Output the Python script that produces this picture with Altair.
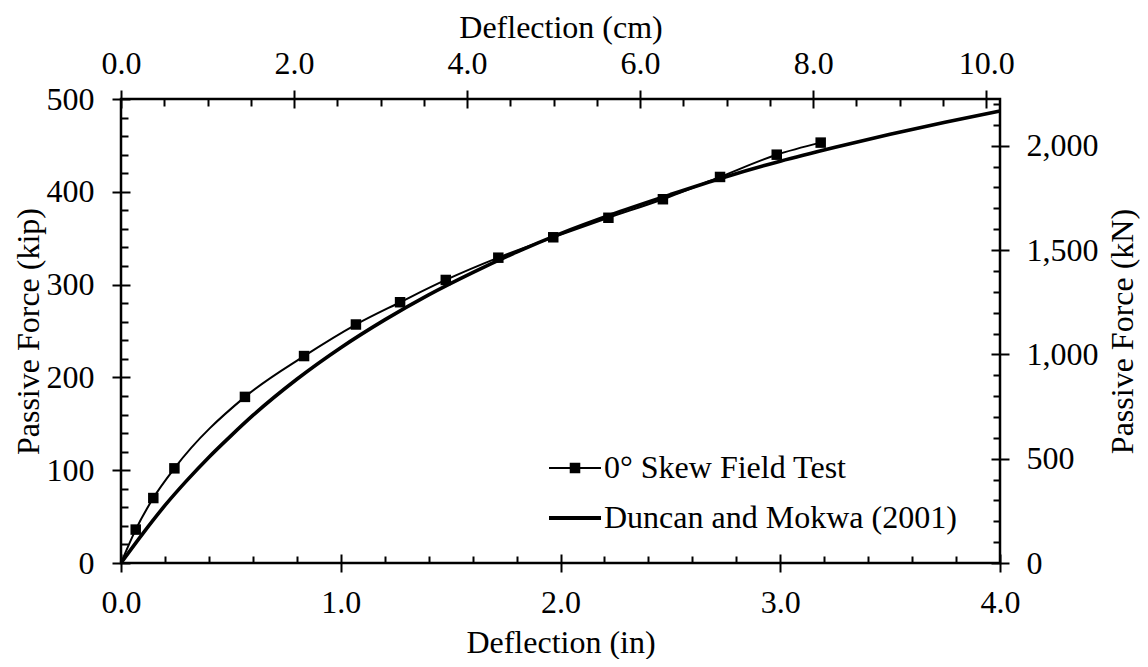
import altair as alt
import pandas as pd

# ---------------- data ----------------
field_in = [0.0, 0.067, 0.147, 0.243, 0.564, 0.833, 1.069, 1.27, 1.478, 1.717,
            1.967, 2.218, 2.466, 2.726, 2.984, 3.184]
field_kip = [0, 36, 70, 102, 179, 223, 257, 281, 305, 329,
             351, 372, 392, 416, 440, 453]

duncan_in = [0.0, 0.1, 0.2, 0.3, 0.4, 0.5, 0.6, 0.8, 1.0, 1.2, 1.4, 1.6, 1.8,
             2.0, 2.25, 2.5, 2.75, 3.0, 3.25, 3.5, 3.75, 4.0]
duncan_kip = [0, 32, 62, 89, 114, 137, 159, 198, 232, 262, 289, 313, 335,
              355, 377, 397, 416, 433, 448, 462, 475, 487]

series_names = ["0° Skew Field Test", "Duncan and Mokwa (2001)"]

in_major = [0, 1, 2, 3, 4]
in_minor = [0.2, 0.4, 0.6, 0.8, 1.2, 1.4, 1.6, 1.8, 2.2, 2.4, 2.6, 2.8,
            3.2, 3.4, 3.6, 3.8]
kip_major = [0, 100, 200, 300, 400, 500]
kip_minor = [20, 40, 60, 80, 120, 140, 160, 180, 220, 240, 260, 280,
             320, 340, 360, 380, 420, 440, 460, 480]
cm_major = [0, 2, 4, 6, 8, 10]
cm_minor = [0.5, 1, 1.5, 2.5, 3, 3.5, 4.5, 5, 5.5, 6.5, 7, 7.5, 8.5, 9, 9.5]
kn_major = [0, 500, 1000, 1500, 2000]
kn_minor = [100, 200, 300, 400, 600, 700, 800, 900, 1100, 1200, 1300, 1400,
            1600, 1700, 1800, 1900, 2100, 2200]

IN_DOM = [0, 4]
KIP_DOM = [0, 500]
CM_DOM = [0, 4 * 2.54]
KN_DOM = [0, 500 * 4.448222]

W, H = 879, 464
FONT = "Liberation Serif"
FS = 32


def sc(dom):
    return alt.Scale(domain=dom, nice=False, zero=False, padding=0)


def axis_layer(xdom, ydom, xaxis, yaxis):
    df = pd.DataFrame({"x": [xdom[0], xdom[1]], "y": [ydom[0], ydom[1]]})
    return alt.Chart(df).mark_point(opacity=0, size=1).encode(
        x=alt.X("x:Q", scale=sc(xdom), axis=xaxis),
        y=alt.Y("y:Q", scale=sc(ydom), axis=yaxis),
    )


common = dict(domain=False, grid=False, tickColor="black", tickWidth=2)

# major axes (ticks crossing the frame)
ax_bottom = alt.Axis(orient="bottom", values=in_major, format=".1f", tickSize=18,
                     offset=-9, labelPadding=40, labelBaseline="alphabetic",
                     labelFlush=False, labelOverlap=False,
                     title="Deflection (in)", titleX=W / 2, titleY=98,
                     titleBaseline="alphabetic", titleAlign="center", **common)
ax_left = alt.Axis(orient="left", values=kip_major, format="d", tickSize=18,
                   offset=-9, labelPadding=18, labelOverlap=False,
                   title="Passive Force (kip)", titleX=-92, titleY=H / 2,
                   titleAngle=270, titleBaseline="alphabetic",
                   titleAlign="center", **common)
ax_top = alt.Axis(orient="top", values=cm_major, format=".1f", tickSize=18,
                  offset=-9, labelPadding=17, labelBaseline="alphabetic",
                  labelFlush=False, labelOverlap=False,
                  title="Deflection (cm)", titleX=W / 2, titleY=-71,
                  titleBaseline="alphabetic", titleAlign="center", **common)
ax_right = alt.Axis(orient="right", values=kn_major, format=",d", tickSize=18,
                    offset=-9, labelPadding=17, labelOverlap=False,
                    title="Passive Force (kN)", titleX=141, titleY=H / 2,
                    titleAngle=270, titleBaseline="alphabetic",
                    titleAlign="center", **common)


# minor axes (inward ticks)
def minor(orient, vals):
    return alt.Axis(orient=orient, values=vals, tickSize=7, offset=-7,
                    labels=False, title="", **common)


layer_major_main = axis_layer(IN_DOM, KIP_DOM, ax_bottom, ax_left)
layer_minor_main = axis_layer(IN_DOM, KIP_DOM, minor("bottom", in_minor),
                              minor("left", kip_minor))
layer_major_sec = axis_layer(CM_DOM, KN_DOM, ax_top, ax_right)
layer_minor_sec = axis_layer(CM_DOM, KN_DOM, minor("top", cm_minor),
                             minor("right", kn_minor))

field_df = pd.DataFrame({"d": field_in, "F": field_kip})
duncan_df = pd.DataFrame({"d": duncan_in, "F": duncan_kip})

duncan_line = alt.Chart(duncan_df).mark_line(
    color="black", strokeWidth=3.6, interpolate="monotone"
).encode(
    x=alt.X("d:Q", scale=sc(IN_DOM), axis=None),
    y=alt.Y("F:Q", scale=sc(KIP_DOM), axis=None),
)

field_line = alt.Chart(field_df).mark_line(
    color="black", strokeWidth=2, interpolate="monotone"
).encode(
    x=alt.X("d:Q", scale=sc(IN_DOM), axis=None),
    y=alt.Y("F:Q", scale=sc(KIP_DOM), axis=None),
)

field_pts = alt.Chart(field_df).transform_filter("datum.d > 0").mark_point(
    shape="square", filled=True, color="black", opacity=1, size=110
).encode(
    x=alt.X("d:Q", scale=sc(IN_DOM), axis=None),
    y=alt.Y("F:Q", scale=sc(KIP_DOM), axis=None),
)

# legend symbols: line with square marker / thick line
sym_field = "M-1.625,-0.0625H1.625V0.0625H-1.625Z M-0.33,-0.33H0.33V0.33H-0.33Z"
sym_duncan = "M-1.625,-0.12H1.625V0.12H-1.625Z"

legend_df = pd.DataFrame({"series": series_names})
legend_layer = alt.Chart(legend_df).transform_filter("false").mark_point(
    filled=True, color="black", opacity=1, size=1024
).encode(
    shape=alt.Shape(
        "series:N",
        scale=alt.Scale(domain=series_names, range=[sym_field, sym_duncan]),
        legend=alt.Legend(
            title=None, orient="none", legendX=438, legendY=353,
            labelOffset=13, rowPadding=18, padding=0,
            symbolSize=1024, symbolStrokeWidth=0, symbolFillColor="black",
            symbolOpacity=1, labelFont=FONT, labelFontSize=FS,
            labelColor="black", labelLimit=600,
        ),
    )
)

chart = alt.layer(
    layer_major_main, layer_minor_main, layer_major_sec, layer_minor_sec,
    duncan_line, field_line, field_pts, legend_layer,
).resolve_scale(
    x="independent", y="independent"
).properties(
    width=W, height=H,
    padding={"left": 113, "top": 91, "right": 140, "bottom": 96},
    autosize=alt.AutoSizeParams(type="none"),
    background="white",
).configure_view(
    stroke="black", strokeWidth=2.5
).configure_axis(
    labelFont=FONT, labelFontSize=FS, labelColor="black",
    titleFont=FONT, titleFontSize=FS, titleColor="black",
    titleFontWeight="normal",
)

chart.save("out.html", embed_options={"renderer": "svg", "actions": False})
